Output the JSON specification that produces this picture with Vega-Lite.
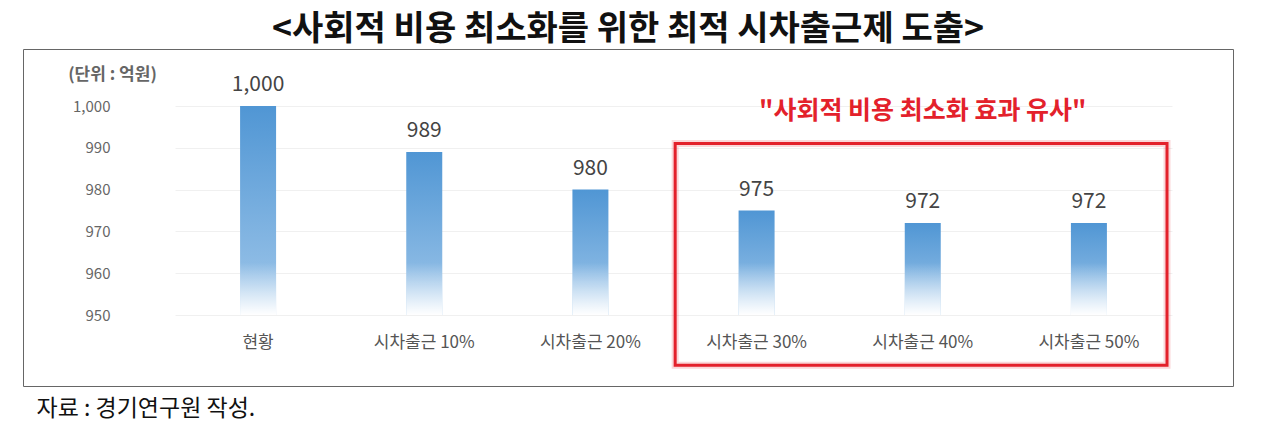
{
  "$schema": "https://vega.github.io/schema/vega-lite/v6.json",
  "width": 1210,
  "height": 337,
  "autosize": {"type": "none"},
  "padding": {"left": 23, "top": 49, "right": 47, "bottom": 52},
  "background": "#ffffff",
  "title": {
    "text": "<사회적 비용 최소화를 위한 최적 시차출근제 도출>",
    "font": "Noto Sans CJK KR",
    "fontSize": 34,
    "fontWeight": "bold",
    "color": "#111111",
    "anchor": "middle",
    "offset": 2
  },
  "config": {
    "view": {"stroke": "#666666", "strokeWidth": 1},
    "font": "Noto Sans CJK KR"
  },
  "data": {
    "values": [
      {"cat": "현황", "value": 1000},
      {"cat": "시차출근 10%", "value": 989},
      {"cat": "시차출근 20%", "value": 980},
      {"cat": "시차출근 30%", "value": 975},
      {"cat": "시차출근 40%", "value": 972},
      {"cat": "시차출근 50%", "value": 972}
    ]
  },
  "layer": [
    {
      "mark": {
        "type": "bar",
        "width": 36,
        "color": {
          "gradient": "linear",
          "x1": 0, "y1": 0, "x2": 0, "y2": 1,
          "stops": [
            {"offset": 0, "color": "#5096d4"},
            {"offset": 1, "color": "#a0c7ea"}
          ]
        }
      },
      "encoding": {
        "x": {
          "field": "cat",
          "type": "nominal",
          "sort": null,
          "scale": {"range": [152, 1149], "paddingInner": 0, "paddingOuter": 0},
          "axis": {
            "orient": "bottom",
            "offset": -71,
            "domain": false,
            "ticks": false,
            "tickSize": 0,
            "labelPadding": 19,
            "labelAngle": 0,
            "labelFontSize": 17,
            "labelColor": "#555555",
            "title": "자료 : 경기연구원 작성.",
            "titleX": 13,
            "titleY": 93,
            "titleAlign": "left",
            "titleBaseline": "middle",
            "titleFontSize": 23,
            "titleFontWeight": "normal",
            "titleColor": "#111111"
          }
        },
        "y": {
          "field": "value",
          "type": "quantitative",
          "scale": {"domain": [950, 1000], "zero": false, "nice": false, "range": [266, 57]},
          "axis": {
            "orient": "left",
            "offset": -152,
            "values": [950, 960, 970, 980, 990, 1000],
            "labelExpr": "format(datum.value, ',')",
            "domain": false,
            "ticks": false,
            "tickSize": 0,
            "labelPadding": 65,
            "labelFontSize": 15,
            "labelColor": "#666666",
            "grid": true,
            "gridColor": "#f0f0f0",
            "title": "(단위 : 억원)",
            "titleAngle": 0,
            "titleX": -63,
            "titleY": 25,
            "titleAlign": "center",
            "titleBaseline": "middle",
            "titleFontSize": 17,
            "titleFontWeight": "bold",
            "titleColor": "#666666"
          }
        },
        "y2": {"datum": 950}
      }
    },
    {
      "mark": {
        "type": "bar",
        "width": 36,
        "color": {
          "gradient": "linear",
          "x1": 0, "y1": 0, "x2": 0, "y2": 1,
          "stops": [
            {"offset": 0, "color": "rgba(255,255,255,0)"},
            {"offset": 1, "color": "#ffffff"}
          ]
        }
      },
      "encoding": {
        "x": {"field": "cat", "type": "nominal", "sort": null},
        "y": {"datum": 962.5},
        "y2": {"datum": 950}
      }
    },
    {
      "mark": {"type": "text", "baseline": "middle", "dy": -21, "fontSize": 21, "color": "#444444"},
      "encoding": {
        "x": {"field": "cat", "type": "nominal", "sort": null},
        "y": {"field": "value", "type": "quantitative"},
        "text": {"field": "value", "type": "quantitative", "format": ","}
      }
    },
    {
      "data": {"values": [{"note": "\"사회적 비용 최소화 효과 유사\""}]},
      "mark": {"type": "text", "baseline": "middle", "fontSize": 25, "fontWeight": "bold", "color": "#e3212b"},
      "encoding": {
        "x": {"datum": "시차출근 40%"},
        "y": {"datum": 998.8},
        "text": {"field": "note", "type": "nominal"}
      }
    },
    {
      "data": {"values": [{"box": "유사"}]},
      "mark": {"type": "rect", "fill": null, "stroke": "#e3212b", "strokeWidth": 7, "strokeOpacity": 0.18},
      "encoding": {
        "x": {"datum": "시차출근 30%", "bandPosition": 0.01},
        "x2": {"datum": "시차출근 50%", "bandPosition": 0.97},
        "y": {"datum": 991},
        "y2": {"datum": 938}
      }
    },
    {
      "data": {"values": [{"box": "유사"}]},
      "mark": {"type": "rect", "fill": null, "stroke": "#e3212b", "strokeWidth": 3},
      "encoding": {
        "x": {"datum": "시차출근 30%", "bandPosition": 0.01},
        "x2": {"datum": "시차출근 50%", "bandPosition": 0.97},
        "y": {"datum": 991},
        "y2": {"datum": 938}
      }
    }
  ]
}
